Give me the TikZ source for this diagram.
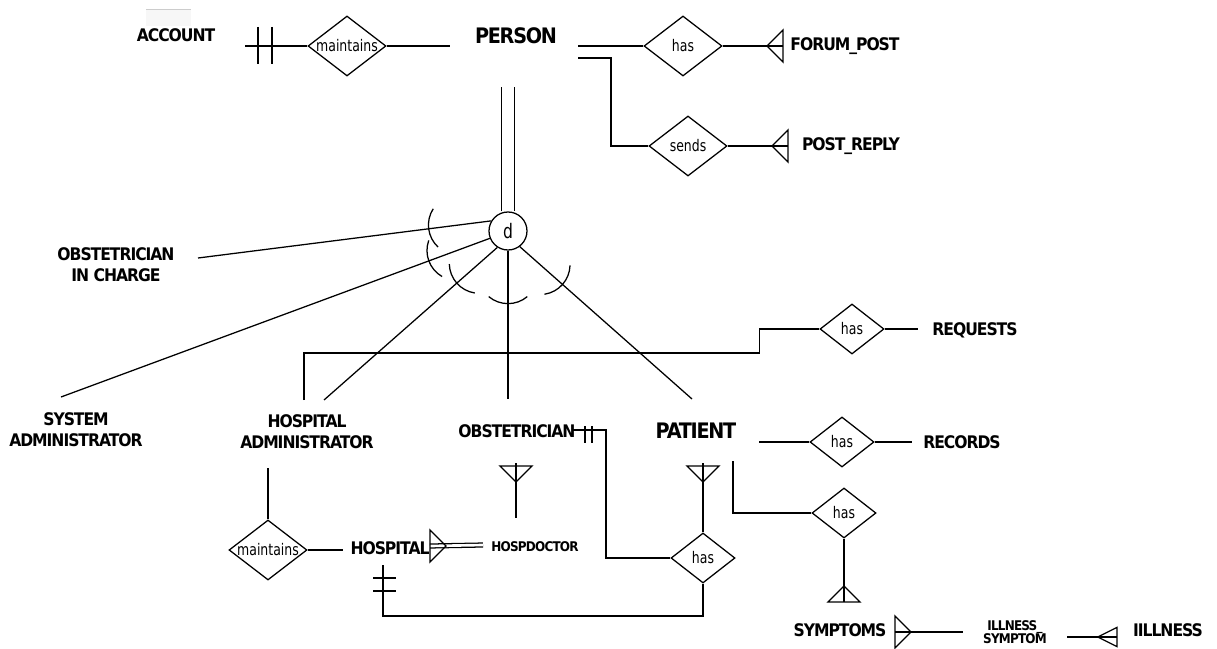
\documentclass[tikz,border=0pt]{standalone}
\usepackage{fontspec}
\setmainfont{DejaVu Sans}
\newfontfamily\erfont{DejaVu Sans}[FakeStretch=0.9, LetterSpace=-6]
\newfontfamily\relfont{DejaVu Sans}[FakeStretch=0.78]
\usetikzlibrary{shapes.geometric,calc,positioning}
\tikzstyle{entity} = [font=\erfont\bfseries\fontsize{13}{16}\selectfont, align=center, inner sep=0pt]
\tikzstyle{bigentity} = [entity, font=\erfont\bfseries\fontsize{16}{18}\selectfont]
\tikzstyle{smallentity} = [entity, font=\erfont\bfseries\fontsize{10}{10}\selectfont]
\tikzstyle{relation} = [diamond, draw, aspect=1.3, inner sep=0pt, minimum width=58.5pt, minimum height=45pt, font=\relfont\fontsize{12}{12}\selectfont]
\tikzstyle{smallrelation} = [relation, minimum width=48pt, minimum height=37.5pt]
\tikzstyle{disjoint} = [circle, draw, inner sep=0pt, minimum size=28.5pt, font=\relfont\fontsize{15}{15}\selectfont]
\tikzset{crow/.pic={\draw (0,-16) -- (0,16) -- (-16,0) -- cycle;}}
% subset arc across a line: from, to, distance from start
\newcommand{\subarc}[3]{%
  \draw let \p1=($(#2)-(#1)$), \n1={atan2(\y1,\x1)} in
    ($(#1)!#3*0.75pt!(#2)$) ++(\n1+180:22.5pt) ++(\n1-40:22.5pt)
    arc[start angle=\n1-40, end angle=\n1+40, radius=22.5pt];}

\begin{document}
\begin{tikzpicture}[x=0.75pt, y=-0.75pt, line width=0.95pt]
    \useasboundingbox (0,0) rectangle (1217,649);
    \fill[gray!6] (146,9) rectangle (191,26);
    \draw[gray!40, line width=0.6pt] (146,9) -- (191,9);

    % Entities
    \node[entity] (acc) at (176,35) {ACCOUNT};
    \node[bigentity] (per) at (516,36) {PERSON};
    \node[entity] (fpost) at (845,46) {FORUM\_POST};
    \node[entity] (prep) at (851,146) {POST\_REPLY};
    \node[entity] (oic) at (116,265) {OBSTETRICIAN\\IN CHARGE};
    \node[entity] (sysadm) at (76,430) {SYSTEM\\ADMINISTRATOR};
    \node[entity] (hadm) at (307,432) {HOSPITAL\\ADMINISTRATOR};
    \node[entity] (obs) at (517,431) {OBSTETRICIAN};
    \node[bigentity] (pat) at (696,431) {PATIENT};
    \node[entity] (req) at (975,330) {REQUESTS};
    \node[entity] (rec) at (962,442) {RECORDS};
    \node[entity] (hosp) at (390,548) {HOSPITAL};
    \node[smallentity] (hdoc) at (535,547) {HOSPDOCTOR};
    \node[entity] (sym) at (840,630) {SYMPTOMS};
    \node[smallentity] (ills) at (1015,632) {ILLNESS\_\\SYMPTOM};
    \node[entity] (ill) at (1168,630) {IILLNESS};

    % Relationships
    \node[relation] (mnt1) at (347,46) {maintains};
    \node[relation] (has1) at (683,46) {has};
    \node[relation] (snd) at (688,146) {sends};
    \node[relation] (mnt2) at (268,550) {maintains};
    \node[smallrelation] (has2) at (852,329) {has};
    \node[smallrelation] (has3) at (842,442) {has};
    \node[smallrelation] (has4) at (844,513) {has};
    \node[smallrelation] (has5) at (703,558) {has};
    \node[disjoint] (dd) at (508,231) {d};

    % PERSON links
    \draw ($(acc |- mnt1)+(69,0)$) -- (mnt1.west);
    \draw ($(acc)+(82,-8)$) -- ++(0,37) ($(acc)+(96,-8)$) -- ++(0,37);
    \draw (mnt1.east) -- ($(per |- mnt1)+(-66,0)$);
    \draw ($(per |- has1)+(62,0)$) -- (has1.west);
    \draw (has1.east) -- ($(fpost |- has1)+(-62,0)$) coordinate (fpP);
    \pic at (fpP) {crow};
    \draw ($(per)+(62,22)$) -- ++(33,0) |- (snd.west);
    \draw (snd.east) -- ($(prep |- snd)+(-63,0)$) coordinate (prP);
    \pic at (prP) {crow};

    % Specialization
    \draw[double, double distance=8.8pt] (dd.north) -- ($(dd.north |- per)+(0,51)$);
    \coordinate (oicP) at ($(oic)+(82,-7)$);
    \coordinate (saP) at ($(sysadm)+(-15,-33)$);
    \coordinate (haP) at ($(hadm)+(17,-32)$);
    \coordinate (obP) at ($(obs)+(-9,-32)$);
    \coordinate (paP) at ($(pat)+(-4,-32)$);
    \draw (dd.149) -- (oicP);
    \draw (dd.202) -- (saP);
    \draw (dd.237) -- (haP);
    \draw (dd.south) -- (obP);
    \draw (dd.307) -- (paP);
    \subarc{dd.149}{oicP}{63}
    \subarc{dd.202}{saP}{65}
    \subarc{dd.237}{haP}{54}
    \subarc{dd.south}{obP}{53}
    \subarc{dd.307}{paP}{57}

    % Subclass links
    \draw ($(hadm)+(-3,-32)$) -- ++(0,-47) -| ($(has2.west)+(-60,0)$) -- (has2.west);
    \draw (has2.east) -- ($(req |- has2)+(-57,0)$);
    \draw (mnt2.north) -- ($(mnt2.north |- hadm)+(0,36)$);
    \draw (mnt2.east) -- ($(hosp |- mnt2)+(-47,0)$);
    \draw[double, double distance=2pt] ($(hosp)+(40,-2)$) coordinate (hoP) -- ($(hdoc)+(-52,-2)$);
    \pic[rotate=180] at (hoP) {crow};
    \draw ($(obs)+(-1,32)$) -- ($(hdoc)+(-19,-29)$);
    \pic[rotate=90] at ($(obs)+(-1,35)$) {crow};
    \draw ($(obs)+(55,-1)$) -- ++(34,0) |- (has5.west);
    \draw ($(obs)+(68,-5)$) -- ++(0,17) ($(obs)+(75,-5)$) -- ++(0,17);
    \draw (has5.north) -- ($(has5.north |- pat)+(0,32)$);
    \pic[rotate=90] at ($(has5.north |- pat)+(0,35)$) {crow};
    \draw (has5.south) |- ($(hosp)+(-7,68)$) -- ($(hosp)+(-7,17)$);
    \draw ($(hosp)+(-17,30)$) -- ++(23,0) ($(hosp)+(-17,43)$) -- ++(23,0);

    % PATIENT links
    \draw ($(pat |- has3)+(63,0)$) -- (has3.west);
    \draw (has3.east) -- ($(rec |- has3)+(-50,0)$);
    \draw ($(pat)+(37,30)$) |- (has4.west);
    \draw (has4.south) -- ($(has4.south |- sym)+(0,-28)$) coordinate (syP);
    \pic[rotate=-90] at (syP) {crow};
    \draw ($(sym)+(55,2)$) coordinate (siP) -- ($(ills)+(-52,0)$);
    \pic[rotate=180] at (siP) {crow};
    \draw ($(ills)+(52,5)$) -- ($(ill)+(-51,7)$) coordinate (ilP);
    \pic[yscale=0.6, xscale=1.2] at (ilP) {crow};
\end{tikzpicture}
\end{document}
